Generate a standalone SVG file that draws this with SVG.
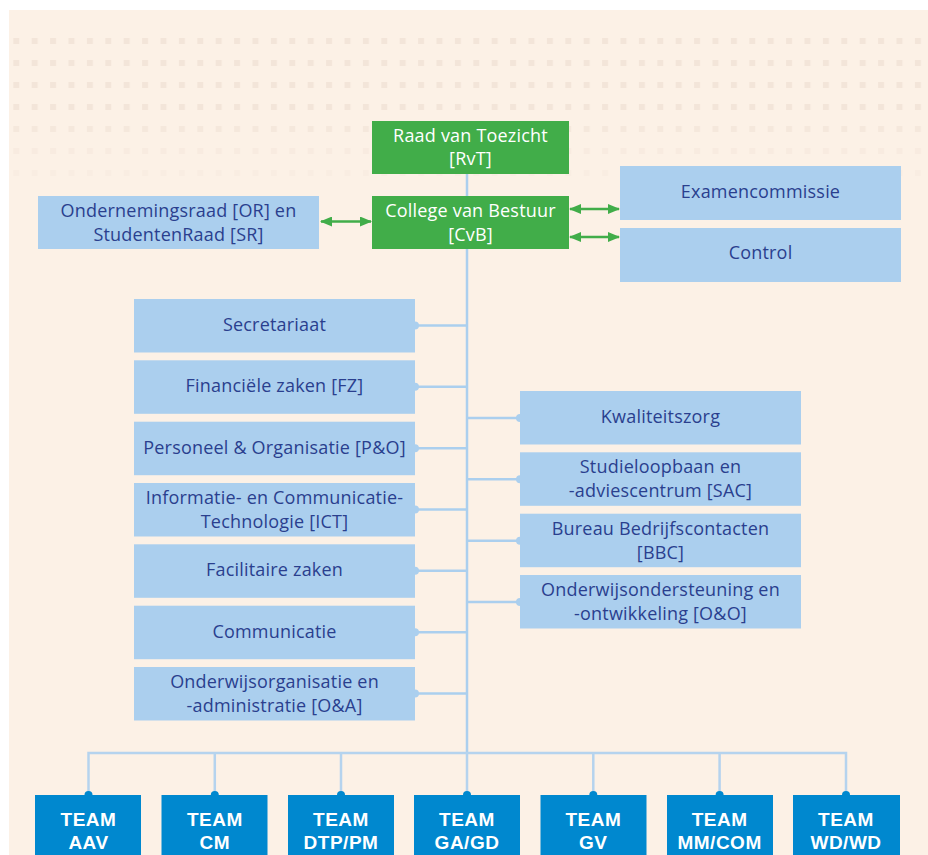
<svg xmlns="http://www.w3.org/2000/svg" width="928" height="855" viewBox="0 0 928 855">
<style>
.bg{fill:#fcf1e6}
.green{fill:#41ad49}
.lb{fill:#abcfee}
.team{fill:#0088cf}
.t{font-family:"Open Sans","Liberation Sans",sans-serif;font-size:18px;fill:#2a3f8e;text-anchor:middle;letter-spacing:0.2px}
.tw{font-family:"Open Sans","Liberation Sans",sans-serif;font-size:18px;fill:#ffffff;text-anchor:middle;letter-spacing:0.2px}
.tt{font-family:"Liberation Sans",Arial,sans-serif;font-size:19px;font-weight:bold;fill:#ffffff;text-anchor:middle;letter-spacing:0.5px}
.ln{stroke:#abcfee;stroke-width:2.5;fill:none}
.lnb{stroke:#b5d3ee;stroke-width:2.5;fill:none}
.arr{stroke:#41ad49;stroke-width:2.5;fill:none;marker-start:url(#ah);marker-end:url(#ah)}
</style>
<defs>
<pattern id="dots" patternUnits="userSpaceOnUse" x="13.3" y="38" width="18.4" height="22">
<rect x="0" y="0" width="6" height="6" fill="#f3e5d9"/>
</pattern>
<marker id="ah" viewBox="0 0 12 10" refX="11" refY="5" markerWidth="12" markerHeight="10" markerUnits="userSpaceOnUse" orient="auto-start-reverse">
<path d="M0,0 L12,5 L0,10 Z" fill="#41ad49"/>
</marker>
</defs>
<rect x="9" y="10" width="919" height="845" class="bg"/>
<g id="dotsbg">
<rect x="13" y="38" width="910" height="6" fill="url(#dots)"/>
<rect x="13" y="60" width="910" height="6" fill="url(#dots)"/>
<rect x="13" y="82" width="910" height="6" fill="url(#dots)"/>
<rect x="13" y="104" width="910" height="6" fill="url(#dots)"/>
<rect x="13" y="126" width="910" height="6" fill="url(#dots)" opacity="0.75"/>
<rect x="13" y="148" width="910" height="6" fill="url(#dots)" opacity="0.5"/>
<rect x="13" y="170" width="910" height="6" fill="url(#dots)" opacity="0.3"/>
</g>
<g id="connectors">
<line class="ln" x1="467" y1="174" x2="467" y2="753"/>
<line class="ln" x1="415" y1="325.5" x2="467" y2="325.5"/>
<line class="ln" x1="415" y1="386.8" x2="467" y2="386.8"/>
<line class="ln" x1="415" y1="448.2" x2="467" y2="448.2"/>
<line class="ln" x1="415" y1="509.5" x2="467" y2="509.5"/>
<line class="ln" x1="415" y1="570.8" x2="467" y2="570.8"/>
<line class="ln" x1="415" y1="632.2" x2="467" y2="632.2"/>
<line class="ln" x1="415" y1="693.5" x2="467" y2="693.5"/>
<line class="ln" x1="467" y1="418" x2="520" y2="418"/>
<line class="ln" x1="467" y1="479.3" x2="520" y2="479.3"/>
<line class="ln" x1="467" y1="540.7" x2="520" y2="540.7"/>
<line class="ln" x1="467" y1="602" x2="520" y2="602"/>
<path class="lnb" d="M88.5,795 V753 H846 V795 M214.8,753 V795 M341,753 V795 M467,753 V795 M593.3,753 V795 M719.6,753 V795"/>
<line class="arr" x1="321" y1="221.5" x2="371" y2="221.5"/>
<line class="arr" x1="570" y1="209" x2="619" y2="209"/>
<line class="arr" x1="570" y1="237" x2="619" y2="237"/>
<g fill="#abcfee">
<circle cx="415" cy="325.5" r="4"/><circle cx="415" cy="386.8" r="4"/><circle cx="415" cy="448.2" r="4"/><circle cx="415" cy="509.5" r="4"/><circle cx="415" cy="570.8" r="4"/><circle cx="415" cy="632.2" r="4"/><circle cx="415" cy="693.5" r="4"/>
<circle cx="520" cy="418" r="4"/><circle cx="520" cy="479.3" r="4"/><circle cx="520" cy="540.7" r="4"/><circle cx="520" cy="602" r="4"/>
</g>
<g fill="#0088cf">
<circle cx="88.5" cy="795" r="4"/><circle cx="214.8" cy="795" r="4"/><circle cx="341" cy="795" r="4"/><circle cx="467" cy="795" r="4"/><circle cx="593.3" cy="795" r="4"/><circle cx="719.6" cy="795" r="4"/><circle cx="846" cy="795" r="4"/>
</g>
</g>
<g id="rvt"><rect class="green" x="372" y="121" width="197" height="53"/><text class="tw" x="470.5" y="141.5">Raad van Toezicht</text><text class="tw" x="470.5" y="165">[RvT]</text></g>
<g id="cvb"><rect class="green" x="372" y="196" width="197" height="53"/><text class="tw" x="470.5" y="217">College van Bestuur</text><text class="tw" x="470.5" y="240.5">[CvB]</text></g>
<g id="or"><rect class="lb" x="38" y="196" width="281" height="53"/><text class="t" x="178.5" y="217">Ondernemingsraad [OR] en</text><text class="t" x="178.5" y="241">StudentenRaad [SR]</text></g>
<g id="exam"><rect class="lb" x="620" y="166" width="281" height="54"/><text class="t" x="760.5" y="198">Examencommissie</text></g>
<g id="control"><rect class="lb" x="620" y="228" width="281" height="54"/><text class="t" x="760.5" y="259">Control</text></g>
<g id="secr"><rect class="lb" x="134" y="299" width="281" height="53.5"/><text class="t" x="274.5" y="331">Secretariaat</text></g>
<g id="fz"><rect class="lb" x="134" y="360.3" width="281" height="53.5"/><text class="t" x="274.5" y="392.3">Financiële zaken [FZ]</text></g>
<g id="po"><rect class="lb" x="134" y="421.7" width="281" height="53.5"/><text class="t" x="274.5" y="453.7">Personeel &amp; Organisatie [P&amp;O]</text></g>
<g id="ict"><rect class="lb" x="134" y="483" width="281" height="53.5"/><text class="t" x="274.5" y="504">Informatie- en Communicatie-</text><text class="t" x="274.5" y="528">Technologie [ICT]</text></g>
<g id="fac"><rect class="lb" x="134" y="544.3" width="281" height="53.5"/><text class="t" x="274.5" y="576.3">Facilitaire zaken</text></g>
<g id="comm"><rect class="lb" x="134" y="605.7" width="281" height="53.5"/><text class="t" x="274.5" y="637.7">Communicatie</text></g>
<g id="oa"><rect class="lb" x="134" y="667" width="281" height="53.5"/><text class="t" x="274.5" y="688">Onderwijsorganisatie en</text><text class="t" x="274.5" y="712">-administratie [O&amp;A]</text></g>
<g id="kwal"><rect class="lb" x="520" y="391" width="281" height="53.5"/><text class="t" x="660.5" y="423">Kwaliteitszorg</text></g>
<g id="sac"><rect class="lb" x="520" y="452.3" width="281" height="53.5"/><text class="t" x="660.5" y="473.3">Studieloopbaan en</text><text class="t" x="660.5" y="497.3">-adviescentrum [SAC]</text></g>
<g id="bbc"><rect class="lb" x="520" y="513.7" width="281" height="53.5"/><text class="t" x="660.5" y="534.7">Bureau Bedrijfscontacten</text><text class="t" x="660.5" y="558.7">[BBC]</text></g>
<g id="oo"><rect class="lb" x="520" y="575" width="281" height="53.5"/><text class="t" x="660.5" y="596">Onderwijsondersteuning en</text><text class="t" x="660.5" y="620">-ontwikkeling [O&amp;O]</text></g>
<g id="team-aav"><rect class="team" x="35" y="795" width="106" height="60"/><text class="tt" x="88.5" y="826">TEAM</text><text class="tt" x="88.5" y="849">AAV</text></g>
<g id="team-cm"><rect class="team" x="161.5" y="795" width="106" height="60"/><text class="tt" x="214.8" y="826">TEAM</text><text class="tt" x="214.8" y="849">CM</text></g>
<g id="team-dtp"><rect class="team" x="288" y="795" width="106" height="60"/><text class="tt" x="341" y="826">TEAM</text><text class="tt" x="341" y="849">DTP/PM</text></g>
<g id="team-ga"><rect class="team" x="414" y="795" width="106" height="60"/><text class="tt" x="467" y="826">TEAM</text><text class="tt" x="467" y="849">GA/GD</text></g>
<g id="team-gv"><rect class="team" x="540.5" y="795" width="106" height="60"/><text class="tt" x="593.3" y="826">TEAM</text><text class="tt" x="593.3" y="849">GV</text></g>
<g id="team-mm"><rect class="team" x="667" y="795" width="106" height="60"/><text class="tt" x="719.6" y="826">TEAM</text><text class="tt" x="719.6" y="849">MM/COM</text></g>
<g id="team-wd"><rect class="team" x="793" y="795" width="107" height="60"/><text class="tt" x="846" y="826">TEAM</text><text class="tt" x="846" y="849">WD/WD</text></g>
</svg>
